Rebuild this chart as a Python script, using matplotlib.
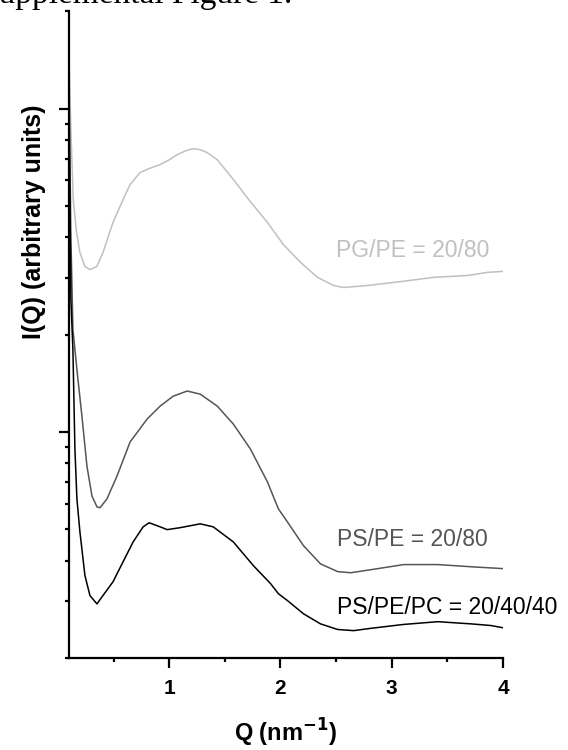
#!/usr/bin/env python3
"""SAXS profiles I(Q) for three lipid mixtures (Supplemental Figure 1)."""
import matplotlib

matplotlib.use("Agg")
import matplotlib.pyplot as plt
from matplotlib.ticker import MultipleLocator, LogLocator, NullFormatter

# PG/PE = 20/80 (light grey)
q_pg = [0.100, 0.117, 0.138, 0.168, 0.198, 0.243, 0.288, 0.349, 0.405, 0.495,
        0.586, 0.649, 0.739, 0.829, 0.919, 1.000, 1.072, 1.150, 1.216, 1.280,
        1.342, 1.432, 1.577, 1.730, 1.883, 2.027, 2.180, 2.333, 2.477, 2.568,
        2.784, 3.081, 3.378, 3.685, 3.865, 4.000]
i_pg = [14.2, 8.61, 5.24, 4.14, 3.59, 3.25, 3.18, 3.25, 3.59, 4.45,
        5.24, 5.83, 6.35, 6.55, 6.72, 6.95, 7.21, 7.42, 7.53, 7.47,
        7.32, 6.96, 6.04, 5.16, 4.45, 3.80, 3.35, 3.01, 2.84, 2.80,
        2.84, 2.92, 3.01, 3.05, 3.12, 3.14]

# PS/PE = 20/80 (dark grey)
q_ps = [0.100, 0.117, 0.135, 0.171, 0.216, 0.261, 0.306, 0.351, 0.378, 0.441,
        0.532, 0.649, 0.802, 0.919, 1.036, 1.162, 1.279, 1.432, 1.577, 1.730,
        1.883, 1.982, 2.063, 2.207, 2.360, 2.514, 2.631, 2.811, 3.108, 3.414,
        3.712, 4.000]
i_ps = [12.0, 4.00, 2.08, 1.56, 1.12, 0.785, 0.634, 0.587, 0.583, 0.621,
        0.732, 0.932, 1.097, 1.203, 1.291, 1.339, 1.310, 1.203, 1.058, 0.886,
        0.701, 0.578, 0.527, 0.445, 0.391, 0.370, 0.367, 0.375, 0.389, 0.389,
        0.383, 0.378]

# PS/PE/PC = 20/40/40 (black)
q_pc = [0.100, 0.117, 0.135, 0.153, 0.171, 0.198, 0.243, 0.288, 0.351, 0.405,
        0.495, 0.586, 0.676, 0.766, 0.820, 0.919, 0.982, 1.099, 1.279, 1.396,
        1.577, 1.757, 1.910, 1.982, 2.063, 2.207, 2.360, 2.514, 2.658, 2.811,
        3.108, 3.414, 3.712, 3.892, 4.000]
i_pc = [10.7, 2.57, 1.80, 0.886, 0.621, 0.491, 0.360, 0.312, 0.294, 0.312,
        0.344, 0.397, 0.457, 0.509, 0.524, 0.509, 0.499, 0.506, 0.520, 0.509,
        0.457, 0.386, 0.340, 0.316, 0.301, 0.274, 0.255, 0.245, 0.243, 0.247,
        0.254, 0.259, 0.255, 0.252, 0.248]

labels = ["PG/PE = 20/80", "PS/PE = 20/80", "PS/PE/PC = 20/40/40"]
colors = ["#c0c0c0", "#555555", "#000000"]

fig = plt.figure(figsize=(5.68, 7.5), dpi=100)
ax = fig.add_axes([0.1215, 0.1227, 0.7641, 0.862])

ax.plot(q_pg, i_pg, color=colors[0], lw=1.1)
ax.plot(q_ps, i_ps, color=colors[1], lw=1.1)
ax.plot(q_pc, i_pc, color=colors[2], lw=1.1)

ax.set_yscale("log")
ax.set_xlim(0.1, 4)
ax.set_ylim(0.2, 20)

ax.xaxis.set_major_locator(MultipleLocator(1))
ax.xaxis.set_minor_locator(MultipleLocator(0.5))
ax.yaxis.set_major_locator(LogLocator(base=10))
ax.yaxis.set_minor_locator(LogLocator(base=10, subs=range(2, 10)))
ax.yaxis.set_major_formatter(NullFormatter())
ax.yaxis.set_minor_formatter(NullFormatter())

for s in ["top", "right"]:
    ax.spines[s].set_visible(False)
for s in ["left", "bottom"]:
    ax.spines[s].set_linewidth(1.6)

ax.tick_params(which="major", length=7, width=1.6, direction="out", pad=8)
ax.tick_params(which="minor", length=3, width=1.6, direction="out")
for t in ax.get_xticklabels():
    t.set_fontweight("bold")
    t.set_fontsize(15)
    t.set_family("Liberation Sans")

ax.set_xlabel("Q (nm$^{\\mathbf{-1}}$)", fontsize=17, fontweight="bold",
              family="Liberation Sans", labelpad=14)
ax.set_ylabel("I(Q) (arbitrary units)", fontsize=18, fontweight="bold",
              family="Liberation Sans")
ax.yaxis.set_label_coords(-0.052, 0.674)

txt_kw = dict(fontsize=16.5, family="Liberation Sans", ha="left", va="baseline")
ax.text(2.50, 3.47, labels[0], color=colors[0], **txt_kw)
ax.text(2.51, 0.445, labels[1], color=colors[1], **txt_kw)
ax.text(2.51, 0.274, labels[2], color=colors[2], **txt_kw)

fig.text(292 / 568, 1 - 3 / 750, "Supplemental Figure 1.", ha="right",
         va="baseline", fontsize=24, family="Liberation Serif")

fig.savefig("out.png", dpi=100)
